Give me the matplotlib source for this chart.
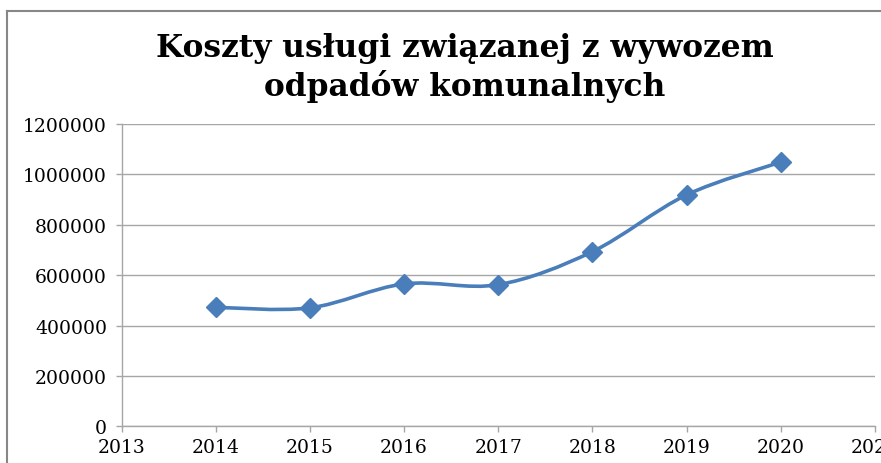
import matplotlib.pyplot as plt
import numpy as np
from matplotlib.lines import Line2D
from matplotlib.path import Path
from matplotlib.patches import PathPatch

# Data
years = [2014, 2015, 2016, 2017, 2018, 2019, 2020]
costs = [472000, 470000, 565000, 562000, 693000, 918000, 1048000]
y_ticks = [0, 200000, 400000, 600000, 800000, 1000000, 1200000]
x_ticks = [2013, 2014, 2015, 2016, 2017, 2018, 2019, 2020, 2021]

LINE_COLOR = '#4A7EBB'
GRID_COLOR = '#A6A6A6'


def smooth_path(xs, ys):
    """Excel-like smoothed line: cubic Bezier segments through every data point."""
    pts = np.column_stack([xs, ys]).astype(float)
    n = len(pts)
    verts = [pts[0]]
    codes = [Path.MOVETO]
    for i in range(n - 1):
        p_prev = pts[i - 1] if i > 0 else pts[i]
        p_next = pts[i + 2] if i + 2 < n else pts[i + 1]
        c1 = pts[i] + (pts[i + 1] - p_prev) / 6.0
        c2 = pts[i + 1] - (p_next - pts[i]) / 6.0
        verts += [c1, c2, pts[i + 1]]
        codes += [Path.CURVE4, Path.CURVE4, Path.CURVE4]
    return Path(verts, codes)


fig = plt.figure(figsize=(8.81, 4.64), dpi=100)
ax = fig.add_axes([0.138, 0.079, 0.855, 0.652])

# smoothed line and diamond markers
patch = PathPatch(smooth_path(years, costs), facecolor='none', edgecolor=LINE_COLOR,
                  linewidth=2.6, transform=ax.transData, zorder=3, clip_on=False)
ax.add_patch(patch)
ax.plot(years, costs, linestyle='none', marker='D', markersize=10,
        color=LINE_COLOR, zorder=4, clip_on=False)

ax.set_xlim(2013, 2021)
ax.set_ylim(0, 1200000)
ax.set_xticks(x_ticks)
ax.set_yticks(y_ticks)
ax.set_xticklabels([str(x) for x in x_ticks])
ax.set_yticklabels([str(y) for y in y_ticks])

ax.grid(axis='y', color=GRID_COLOR, linewidth=1.0)
ax.set_axisbelow(True)
for side in ['top', 'right']:
    ax.spines[side].set_visible(False)
for side in ['left', 'bottom']:
    ax.spines[side].set_color(GRID_COLOR)
    ax.spines[side].set_linewidth(1.0)

ax.tick_params(axis='both', colors=GRID_COLOR, length=4.5, width=1.0,
               labelcolor='black', labelsize=13.5)
ax.tick_params(axis='y', pad=6)
ax.tick_params(axis='x', pad=4)
for lbl in ax.get_xticklabels() + ax.get_yticklabels():
    lbl.set_fontfamily('DejaVu Serif')

# Title
fig.text(0.528, 0.853, 'Koszty usługi związanej z wywozem\nodpadów komunalnych',
         ha='center', va='center', fontsize=22.5, fontweight='bold',
         fontfamily='DejaVu Serif', linespacing=1.22)

# Chart-area border (cropped at right and bottom in the reference)
fig.add_artist(Line2D([7 / 881, 7 / 881], [0, 1 - 12 / 464], transform=fig.transFigure,
                      color='#878787', linewidth=1.5))
fig.add_artist(Line2D([7 / 881, 1], [1 - 12 / 464, 1 - 12 / 464], transform=fig.transFigure,
                      color='#878787', linewidth=1.5))

fig.savefig('out.png', dpi=100)
